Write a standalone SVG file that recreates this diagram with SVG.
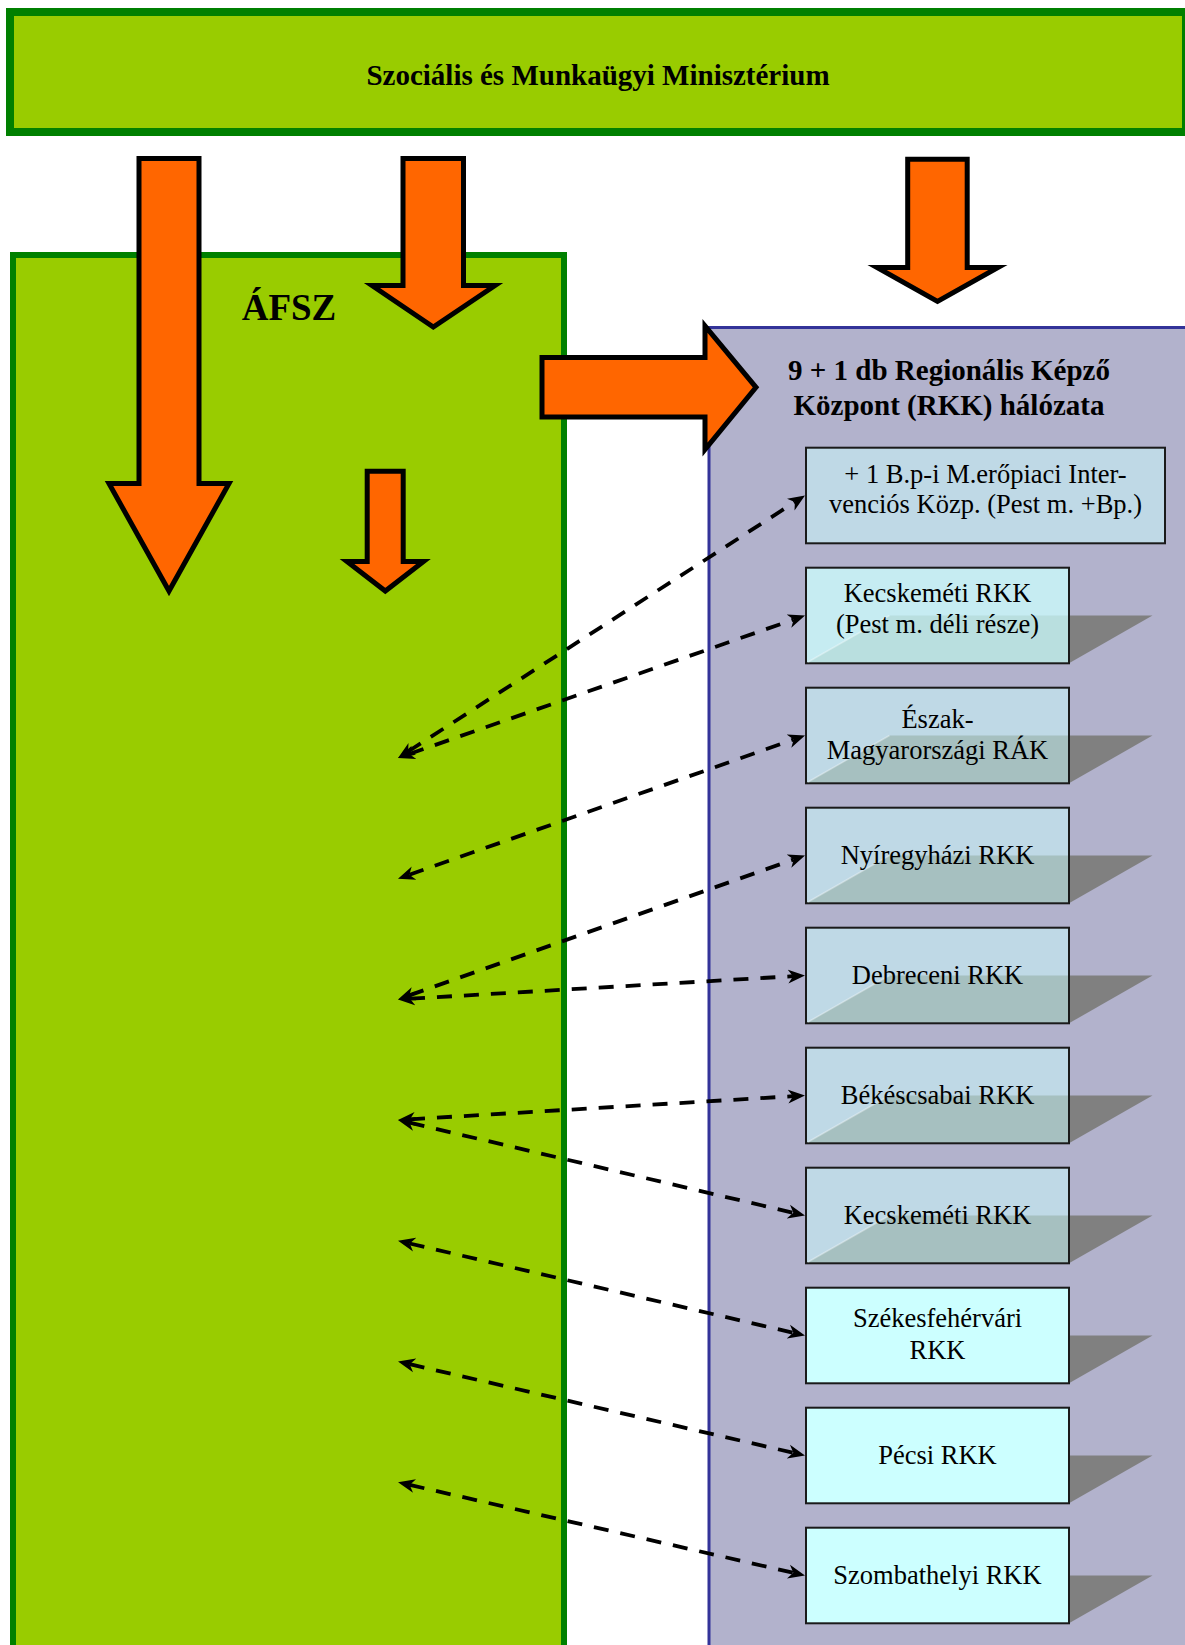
<svg xmlns="http://www.w3.org/2000/svg" width="1185" height="1645" viewBox="0 0 1185 1645">
<style>
.t{font-family:"Liberation Serif","Times New Roman",serif;fill:#000;text-anchor:middle}
.bt{font-weight:bold}
.bx{font-size:26.5px}
.arr{fill:#FF6600;stroke:#000;stroke-width:5;stroke-linejoin:miter;stroke-miterlimit:10}
.box{stroke:#1a1a1a;stroke-width:2}
.semi{fill:#CCFFFF;fill-opacity:0.5}
.semi2{fill:#CCFFFF;fill-opacity:0.75}
.solid{fill:#CCFFFF}
.sh{fill:#808080}
.hl{stroke:#ffffff;stroke-opacity:0.35;stroke-width:1.5}
.dash{fill:none;stroke:#000;stroke-width:3.8;stroke-dasharray:15 12;marker-start:url(#ah);marker-end:url(#ah)}
</style>
<defs>
<marker id="ah" markerUnits="userSpaceOnUse" markerWidth="22" markerHeight="16" viewBox="0 -8 22 16" refX="5" refY="0" orient="auto-start-reverse">
<path d="M0,-7 L17,0 L0,7 L5,0 Z" fill="#000"/>
</marker>
</defs>
<rect width="1185" height="1645" fill="#ffffff"/>

<g id="ministry">
<rect x="10" y="12" width="1176" height="120" fill="#99CC00" stroke="#008000" stroke-width="8"/>
<text class="t bt" x="598" y="85" font-size="29">Szociális és Munkaügyi Minisztérium</text>
</g>

<g id="afsz">
<rect x="13" y="255" width="551" height="1500" fill="#99CC00" stroke="#008000" stroke-width="6"/>
<text class="t bt" x="289" y="320" font-size="37">ÁFSZ</text>
</g>

<g id="rkk-network">
<rect x="709" y="327.5" width="600" height="1400" fill="#B2B2CC" stroke="#333399" stroke-width="3"/>
<text class="t bt" x="949" y="380" font-size="29">9 + 1 db Regionális Képző</text>
<text class="t bt" x="949" y="415" font-size="29">Központ (RKK) hálózata</text>
</g>

<g id="big-arrows">
<polygon id="arrow-left" class="arr" points="139,158.5 199,158.5 199,483.5 229,483.5 169,591 109,483.5 139,483.5"/>
<polygon id="arrow-mid" class="arr" points="403,158.5 463.5,158.5 463.5,285.5 495,285.5 433.3,327 372,285.5 403,285.5"/>
<polygon id="arrow-small" class="arr" points="367.2,471.2 403.2,471.2 403.2,561.5 423.5,561.5 385.3,591 347,561.5 367.2,561.5"/>
<polygon id="arrow-right" class="arr" points="542,357.5 705,357.5 705,326 756,387.3 705,449.5 705,417 542,417"/>
<polygon id="arrow-rkk" class="arr" points="907.7,159.2 967.2,159.2 967.2,267.5 998,267.5 937.5,301.5 877,267.5 907.7,267.5"/>
</g>

<g id="box0">
<rect class="box semi" x="806" y="447.7" width="359" height="95.6"/>
<text class="t bx" x="985.5" y="482.5">+ 1 B.p-i M.erőpiaci Inter-</text>
<text class="t bx" x="985.5" y="512.5">venciós Közp. (Pest m. +Bp.)</text>
</g>

<g id="box1">
<polygon class="sh" points="806,663.3 889.5,615.5 1152.5,615.5 1069,663.3"/>
<rect class="box semi2" x="806" y="567.7" width="263" height="95.6"/>
<line class="hl" x1="808" y1="662" x2="889.5" y2="615.5"/>
<text class="t bx" x="937.5" y="602">Kecskeméti RKK</text>
<text class="t bx" x="937.5" y="632.5">(Pest m. déli része)</text>
</g>

<g id="box2">
<polygon class="sh" points="806,783.3 889.5,735.5 1152.5,735.5 1069,783.3"/>
<rect class="box semi" x="806" y="687.7" width="263" height="95.6"/>
<line class="hl" x1="808" y1="782" x2="889.5" y2="735.5"/>
<text class="t bx" x="937.5" y="727.5">Észak-</text>
<text class="t bx" x="937.5" y="758.5">Magyarországi RÁK</text>
</g>

<g id="box3">
<polygon class="sh" points="806,903.3 889.5,855.5 1152.5,855.5 1069,903.3"/>
<rect class="box semi" x="806" y="807.7" width="263" height="95.6"/>
<line class="hl" x1="808" y1="902" x2="889.5" y2="855.5"/>
<text class="t bx" x="937.5" y="864">Nyíregyházi RKK</text>
</g>

<g id="box4">
<polygon class="sh" points="806,1023.3 889.5,975.5 1152.5,975.5 1069,1023.3"/>
<rect class="box semi" x="806" y="927.7" width="263" height="95.6"/>
<line class="hl" x1="808" y1="1022" x2="889.5" y2="975.5"/>
<text class="t bx" x="937.5" y="984">Debreceni RKK</text>
</g>

<g id="box5">
<polygon class="sh" points="806,1143.3 889.5,1095.5 1152.5,1095.5 1069,1143.3"/>
<rect class="box semi" x="806" y="1047.7" width="263" height="95.6"/>
<line class="hl" x1="808" y1="1142" x2="889.5" y2="1095.5"/>
<text class="t bx" x="937.5" y="1104">Békéscsabai RKK</text>
</g>

<g id="box6">
<polygon class="sh" points="806,1263.3 889.5,1215.5 1152.5,1215.5 1069,1263.3"/>
<rect class="box semi" x="806" y="1167.7" width="263" height="95.6"/>
<line class="hl" x1="808" y1="1262" x2="889.5" y2="1215.5"/>
<text class="t bx" x="937.5" y="1224">Kecskeméti RKK</text>
</g>

<g id="box7">
<polygon class="sh" points="806,1383.3 889.5,1335.5 1152.5,1335.5 1069,1383.3"/>
<rect class="box solid" x="806" y="1287.7" width="263" height="95.6"/>
<text class="t bx" x="937.5" y="1327">Székesfehérvári</text>
<text class="t bx" x="937.5" y="1358.5">RKK</text>
</g>

<g id="box8">
<polygon class="sh" points="806,1503.3 889.5,1455.5 1152.5,1455.5 1069,1503.3"/>
<rect class="box solid" x="806" y="1407.7" width="263" height="95.6"/>
<text class="t bx" x="937.5" y="1464">Pécsi RKK</text>
</g>

<g id="box9">
<polygon class="sh" points="806,1623.3 889.5,1575.5 1152.5,1575.5 1069,1623.3"/>
<rect class="box solid" x="806" y="1527.7" width="263" height="95.6"/>
<text class="t bx" x="937.5" y="1584">Szombathelyi RKK</text>
</g>

<g id="connectors">
<path class="dash" d="M408.1,751.5 L794.9,502"/>
<path class="dash" d="M409.3,754 L793.7,619.5"/>
<path class="dash" d="M409.3,874.7 L793.7,739.5"/>
<path class="dash" d="M409.3,995.4 L793.7,859.5"/>
<path class="dash" d="M410,998.7 L793,976.2"/>
<path class="dash" d="M410,1119.3 L793,1096.2"/>
<path class="dash" d="M409.7,1122.7 L793.3,1212.8"/>
<path class="dash" d="M409.7,1243.5 L793.3,1332.8"/>
<path class="dash" d="M409.7,1364.2 L793.3,1452.8"/>
<path class="dash" d="M409.7,1484.9 L793.3,1572.8"/>
</g>
</svg>
